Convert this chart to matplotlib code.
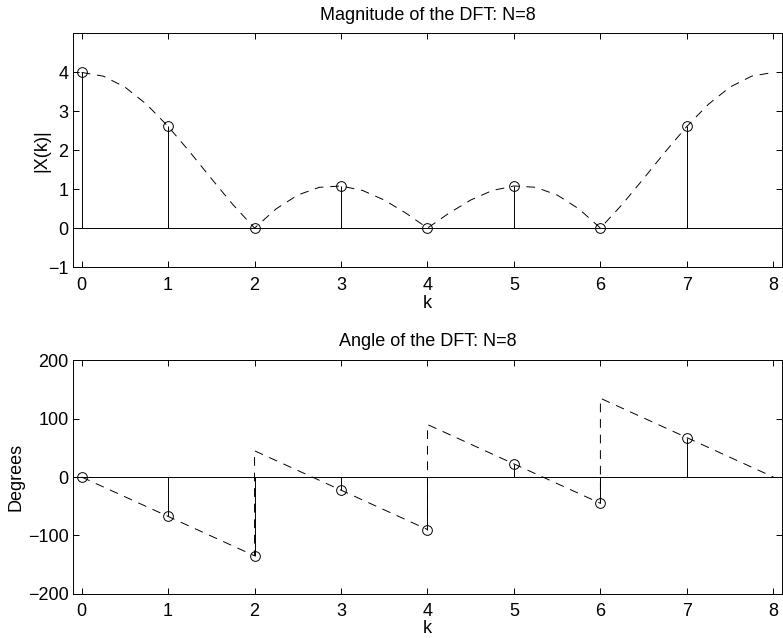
import numpy as np
import matplotlib
matplotlib.use("Agg")
import matplotlib.pyplot as plt

plt.rcParams['font.family'] = ['Liberation Sans', 'DejaVu Sans']
plt.rcParams['font.size'] = 13

# DFT samples
k = [0, 1, 2, 3, 4, 5, 6, 7]
mag = [4.0, 2.613, 0.0, 1.082, 0.0, 1.082, 0.0, 2.613]
ang = [0.0, -67.5, -135.0, -22.5, -90.0, 22.5, -45.0, 67.5]

# continuous magnitude curve (dashed), read at quarter steps
kc = [0, 0.25, 0.5, 0.75, 1, 1.25, 1.5, 1.75, 2, 2.25, 2.5, 2.75, 3, 3.25, 3.5, 3.75,
      4, 4.25, 4.5, 4.75, 5, 5.25, 5.5, 5.75, 6, 6.25, 6.5, 6.75, 7, 7.25, 7.5, 7.75, 8]
magc = [4.0, 3.904, 3.625, 3.183, 2.613, 1.960, 1.273, 0.603, 0.0, 0.495, 0.850, 1.048,
        1.082, 0.966, 0.721, 0.385, 0.0, 0.385, 0.721, 0.966, 1.082, 1.048, 0.850, 0.495,
        0.0, 0.603, 1.273, 1.960, 2.613, 3.183, 3.625, 3.904, 4.0]

# continuous phase curve (dashed), piecewise linear with jumps
ka = [0, 2, 2, 4, 4, 6, 6, 8]
angc = [0, -135, 45, -90, 90, -45, 135, 0]

fig = plt.figure(figsize=(7.83, 6.38), dpi=100)
ax1 = fig.add_axes([0.0932, 0.5815, 0.9055, 0.366])
ax2 = fig.add_axes([0.0932, 0.0694, 0.9055, 0.3658])

LW = 0.7
dash = (0, (9, 7))


def stem_plot(ax, x, y):
    ax.axhline(0, color='black', lw=LW, zorder=2)
    ax.vlines(x, 0, y, color='black', lw=LW, zorder=3)
    ax.plot(x, y, 'o', mfc='none', mec='black', mew=LW, ms=7, zorder=4)


def style(ax, xlab_y):
    ax.set_xlim(-0.1, 8.1)
    ax.set_xticks(range(9))
    ax.tick_params(direction='in', top=True, right=True, length=4.3, width=LW,
                   labelsize=13)
    ax.tick_params(axis='x', pad=7)
    ax.tick_params(axis='y', pad=3.2)
    for s in ax.spines.values():
        s.set_linewidth(LW)
    ax.set_xlabel('k')
    ax.xaxis.set_label_coords(0.5, xlab_y)


stem_plot(ax1, k, mag)
ax1.plot(kc, magc, color='black', lw=LW, linestyle=dash, zorder=1)
style(ax1, -0.122)
ax1.set_ylim(-1, 5)
ax1.set_yticks([-1, 0, 1, 2, 3, 4])
ax1.set_yticklabels(['\u22121', '0', '1', '2', '3', '4'])
ax1.set_ylabel('|X(k)|')
ax1.yaxis.set_label_coords(-0.0324, 0.5)
ax1.set_title('Magnitude of the DFT: N=8', fontsize=13, pad=10)

stem_plot(ax2, k, ang)
ax2.plot(ka, angc, color='black', lw=LW, linestyle=dash, zorder=1)
style(ax2, -0.112)
ax2.set_ylim(-200, 200)
ax2.set_yticks([-200, -100, 0, 100, 200])
ax2.set_yticklabels(['\u2212200', '\u2212100', '0', '100', '200'])
ax2.set_ylabel('Degrees')
ax2.yaxis.set_label_coords(-0.0677, 0.5)
ax2.set_title('Angle of the DFT: N=8', fontsize=13, pad=10.5)

fig.savefig('out.png', dpi=100)
